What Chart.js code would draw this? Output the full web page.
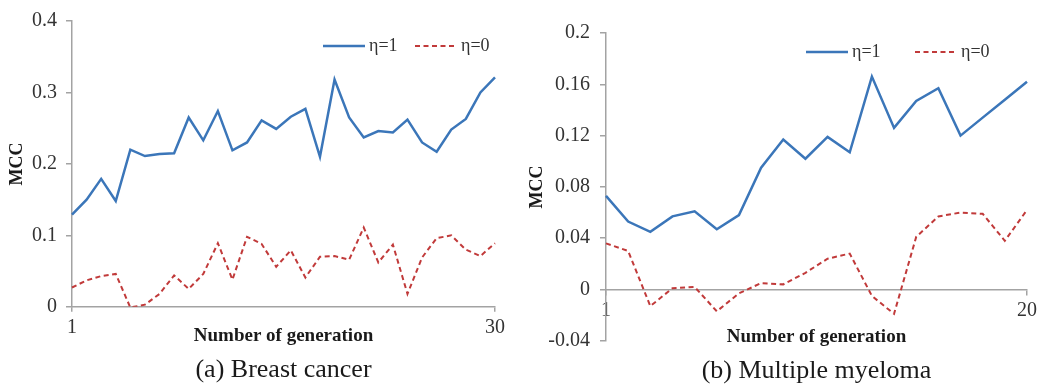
<!DOCTYPE html>
<html><head><meta charset="utf-8">
<script src="https://cdn.jsdelivr.net/npm/chart.js@4.4.1/dist/chart.umd.min.js"></script>
<style>
html,body{margin:0;padding:0;background:#fff;overflow:hidden}
#wrap{position:relative;width:1041px;height:392px;background:#fff}
.box{position:absolute;top:0;height:392px}
canvas{display:block}
</style></head><body>
<div id="wrap">
<div class="box" style="left:0;width:520px"><canvas id="c1" width="520" height="392"></canvas></div>
<div class="box" style="left:520px;width:521px"><canvas id="c2" width="521" height="392"></canvas></div>
</div>
<script>
// ---------- data ----------
const seriesNames = ['η=1', 'η=0'];

const breastGenerations = [1,2,3,4,5,6,7,8,9,10,11,12,13,14,15,16,17,18,19,20,21,22,23,24,25,26,27,28,29,30];
const breastEta1 = [0.129,0.150,0.179,0.148,0.220,0.211,0.214,0.215,0.265,0.233,0.274,0.219,0.230,0.261,0.249,0.266,0.277,0.210,0.318,0.265,0.237,0.246,0.244,0.262,0.230,0.217,0.248,0.263,0.300,0.321];
const breastEta0 = [0.027,0.037,0.043,0.046,-0.001,0.003,0.018,0.044,0.025,0.046,0.089,0.038,0.098,0.088,0.056,0.079,0.041,0.070,0.071,0.066,0.111,0.062,0.087,0.018,0.069,0.096,0.100,0.080,0.071,0.089];
const breastYTicks = [0, 0.1, 0.2, 0.3, 0.4];
const breastXShown = ['1', '30'];

const myelomaGenerations = [1,2,3,4,5,6,7,8,9,10,11,12,13,14,15,16,17,18,19,20];
const myelomaEta1 = [0.073,0.053,0.045,0.057,0.061,0.047,0.058,0.095,0.117,0.102,0.119,0.107,0.166,0.126,0.147,0.157,0.120,0.134,0.148,0.162];
const myelomaEta0 = [0.036,0.030,-0.013,0.001,0.002,-0.017,-0.003,0.005,0.004,0.013,0.024,0.028,-0.005,-0.019,0.041,0.057,0.060,0.059,0.038,0.062];
const myelomaYTicks = [-0.04, 0, 0.04, 0.08, 0.12, 0.16, 0.2];
const myelomaXShown = ['1', '20'];

const captions = ['(a) Breast cancer', '(b) Multiple myeloma'];
const xTitle = 'Number of generation';
const yTitle = 'MCC';

// ---------- styling ----------
const SERIF = '"Liberation Serif", "Times New Roman", serif';
const AXIS = '#a3a3a3';
const TXT = '#333333';
const BLUE = '#3b76b9';
const RED = '#c13a3a';

const insideLegend = {
  id: 'insideLegend',
  afterDatasetsDraw(chart, args, opts) {
    const ctx = chart.ctx;
    ctx.save();
    ctx.font = opts.font;
    ctx.textBaseline = 'middle';
    ctx.textAlign = 'left';
    chart.data.datasets.forEach((ds, i) => {
      const x = opts.x + i * opts.itemWidth;
      const y = opts.y;
      ctx.beginPath();
      ctx.strokeStyle = ds.borderColor;
      ctx.lineWidth = ds.borderWidth;
      ctx.setLineDash(ds.borderDash || []);
      ctx.moveTo(x, y);
      ctx.lineTo(x + opts.lineLength, y);
      ctx.stroke();
      ctx.setLineDash([]);
      ctx.fillStyle = opts.color;
      ctx.fillText(ds.label, x + opts.lineLength + opts.gap, y);
    });
    ctx.restore();
  }
};

function fmt(v) { return String(+Number(v).toFixed(2)); }

function makeChart(id, o) {
  const n = o.labels.length;
  return new Chart(document.getElementById(id), {
    type: 'line',
    data: {
      labels: o.labels.map(String),
      datasets: [
        { label: seriesNames[0], data: o.eta1, borderColor: BLUE, borderWidth: 2.5, pointRadius: 0, tension: 0, fill: false },
        { label: seriesNames[1], data: o.eta0, borderColor: RED, borderWidth: 2, borderDash: [5, 3.5], pointRadius: 0, tension: 0, fill: false }
      ]
    },
    options: {
      responsive: false,
      animation: false,
      devicePixelRatio: 1,
      layout: { padding: o.padding },
      plugins: {
        legend: { display: false },
        tooltip: { enabled: false },
        title: {
          display: true, position: 'bottom', fullSize: false,
          text: o.caption, color: '#1a1a1a',
          font: { family: SERIF, size: 26, weight: 'normal' },
          padding: o.captionPad
        },
        insideLegend: Object.assign({ font: '18px ' + SERIF, color: TXT, lineLength: 42, gap: 4 }, o.legend)
      },
      scales: {
        x: {
          type: 'category',
          position: o.xPosition,
          grid: {
            drawOnChartArea: false, drawTicks: true, tickLength: 5, lineWidth: 1.5,
            color: c => (c.index === 0 || c.index === n - 1) ? AXIS : 'rgba(0,0,0,0)'
          },
          border: { color: AXIS, width: 1.5 },
          ticks: {
            autoSkip: false, maxRotation: 0, minRotation: 0, padding: 4, color: TXT,
            font: { family: SERIF, size: 20 },
            callback: function (v) { const l = this.getLabelForValue(v); return o.xShown.includes(l) ? l : ''; }
          },
          title: {
            display: true, text: xTitle, color: '#1a1a1a',
            font: { family: SERIF, size: 19, weight: 'bold' },
            padding: o.xTitlePad
          },
          afterFit: s => { s.height = o.xHeight; }
        },
        y: {
          min: o.yTicks[0], max: o.yTicks[o.yTicks.length - 1],
          afterBuildTicks: s => { s.ticks = o.yTicks.map(v => ({ value: v })); },
          grid: { drawOnChartArea: false, drawTicks: true, tickLength: 6, color: AXIS, lineWidth: 1.5 },
          border: { color: AXIS, width: 1.5 },
          ticks: { padding: o.yTickPad, color: TXT, font: { family: SERIF, size: 20 }, callback: v => fmt(v) },
          title: {
            display: true, text: yTitle, color: '#1a1a1a',
            font: { family: SERIF, size: 18, weight: 'bold' },
            padding: { top: 7, bottom: 0 }
          },
          afterFit: s => { s.width = o.yWidth; }
        }
      }
    },
    plugins: [insideLegend]
  });
}

makeChart('c1', {
  labels: breastGenerations, eta1: breastEta1, eta0: breastEta0,
  yTicks: breastYTicks, xShown: breastXShown, caption: captions[0],
  padding: { top: 16, left: 0, right: 25, bottom: 2 },
  captionPad: { top: 3, bottom: 4 },
  xPosition: 'bottom', xHeight: 45, xTitlePad: { top: 0, bottom: 4 },
  yWidth: 72, yTickPad: 9,
  legend: { x: 323, y: 46, itemWidth: 92 }
});

makeChart('c2', {
  labels: myelomaGenerations, eta1: myelomaEta1, eta0: myelomaEta0,
  yTicks: myelomaYTicks, xShown: myelomaXShown, caption: captions[1],
  padding: { top: 33, left: 0, right: 10, bottom: 1 },
  captionPad: { top: 15, bottom: 4 },
  xPosition: { y: 0 }, xHeight: 60, xTitlePad: { top: 0, bottom: 1 },
  yWidth: 86, yTickPad: 10,
  legend: { x: 286, y: 52, itemWidth: 109 }
});
</script>
</body></html>
